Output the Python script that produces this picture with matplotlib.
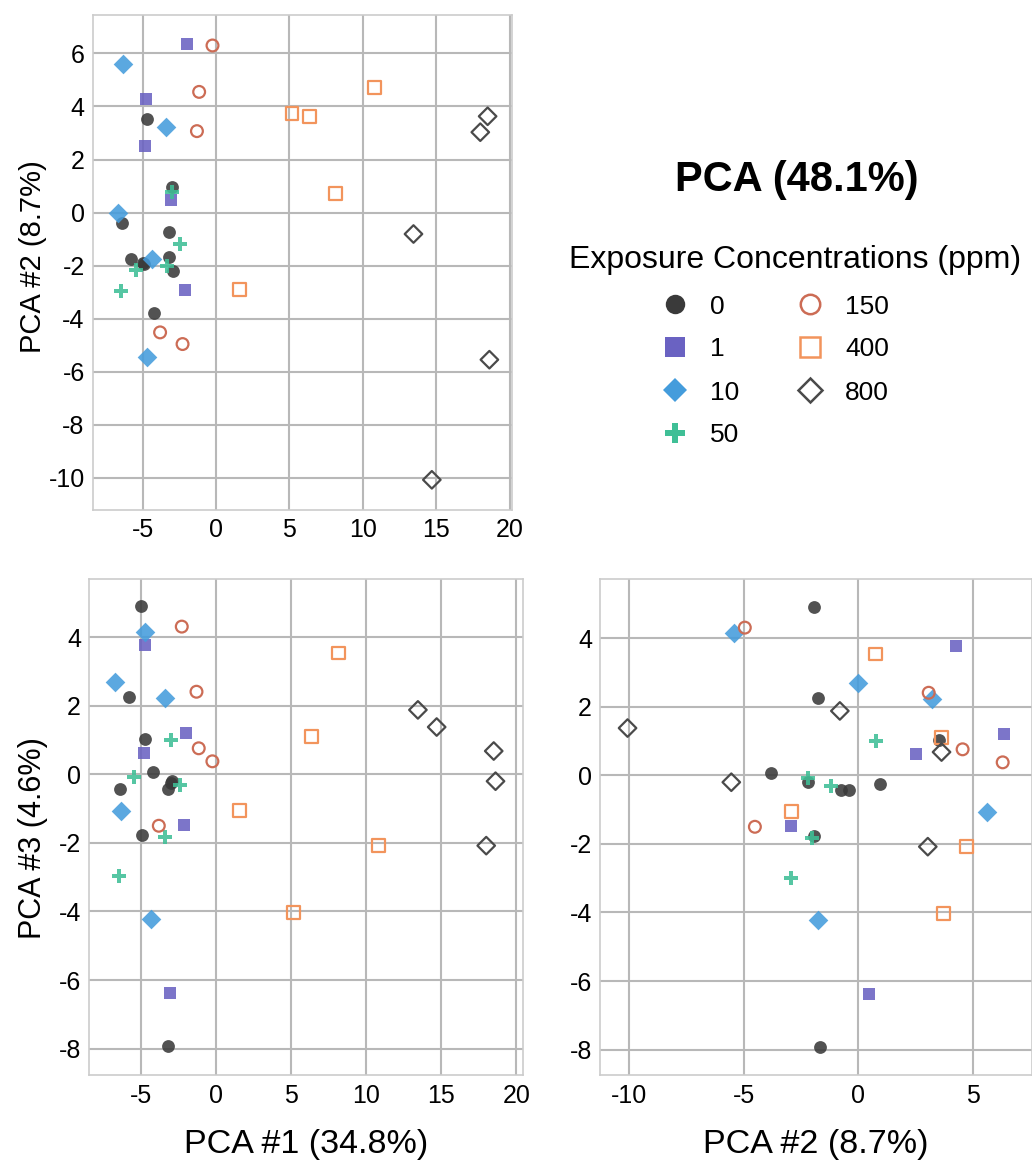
import matplotlib.pyplot as plt
from matplotlib.lines import Line2D

plt.rcParams['font.family'] = ['Liberation Sans', 'DejaVu Sans']
plt.rcParams['axes.unicode_minus'] = False

# exposure groups (ppm)
concentrations = ['0', '1', '10', '50', '150', '400', '800']

# principal component scores, one list per exposure group
pc1_scores = [
    [-4.70, -3.02, -6.39, -3.23, -5.80, -4.97, -4.90, -2.95, -4.22, -3.22],
    [-2.00, -4.74, -4.81, -3.08, -2.11],
    [-4.72, -6.70, -3.40, -6.34, -4.36],
    [-3.02, -5.45, -2.43, -3.37, -6.46],
    [-0.24, -1.15, -1.30, -3.81, -2.28],
    [5.18, 6.34, 10.81, 8.16, 1.59],
    [18.50, 18.00, 13.45, 18.62, 14.70],
]
pc2_scores = [
    [3.51, 0.95, -0.40, -0.74, -1.77, -1.92, -1.94, -2.20, -3.80, -1.68],
    [6.37, 4.27, 2.52, 0.47, -2.93],
    [-5.45, 0.00, 3.21, 5.61, -1.77],
    [0.76, -2.18, -1.19, -2.02, -2.96],
    [6.30, 4.55, 3.07, -4.52, -4.96],
    [3.72, 3.62, 4.71, 0.73, -2.91],
    [3.63, 3.03, -0.81, -5.55, -10.08],
]
pc3_scores = [
    [1.02, -0.24, -0.44, -0.44, 2.26, 4.92, -1.78, -0.19, 0.06, -7.93],
    [1.22, 3.78, 0.62, -6.38, -1.49],
    [4.14, 2.69, 2.22, -1.07, -4.23],
    [1.01, -0.07, -0.32, -1.83, -2.98],
    [0.38, 0.76, 2.41, -1.50, 4.31],
    [-4.02, 1.10, -2.07, 3.54, -1.05],
    [0.68, -2.08, 1.88, -0.20, 1.38],
]

# marker style per group
markers = ['o', 's', 'D', 'P', 'o', 's', 'D']
colors = ['#3a3a3a', '#6a62c2', '#449cdc', '#3fbf96', '#cc6c55', '#f2945c', '#4a4a4a']
filled = [True, True, True, True, False, False, False]
sizes = [85, 75, 100, 115, 72, 85, 80]

W, H = 1032, 1162


def rect(left, top, right, bottom):
    # pixel box -> figure fraction
    return [left / W, 1 - bottom / H, (right - left) / W, (bottom - top) / H]


def draw_panel(ax, xs, ys):
    for i in range(len(concentrations)):
        if filled[i]:
            ax.scatter(xs[i], ys[i], marker=markers[i], s=sizes[i],
                       color=colors[i], linewidths=0, alpha=0.88, zorder=3)
        else:
            ax.scatter(xs[i], ys[i], marker=markers[i], s=sizes[i],
                       facecolors='none', edgecolors=colors[i],
                       linewidths=1.6, zorder=3)
    ax.grid(True, color='#b8b8b8', linewidth=1.5)
    ax.set_axisbelow(True)
    for sp in ax.spines.values():
        sp.set_color('#cccccc')
        sp.set_linewidth(1.2)
    ax.tick_params(length=0, labelsize=18, pad=6, colors='black')


fig = plt.figure(figsize=(W / 100, H / 100), dpi=100)

ax1 = fig.add_axes(rect(93, 15, 512, 509.5))
draw_panel(ax1, pc1_scores, pc2_scores)
ax1.set_xlim(-8.38, 20.16)
ax1.set_ylim(-11.2, 7.45)
ax1.set_xticks([-5, 0, 5, 10, 15, 20])
ax1.set_yticks(range(-10, 7, 2))

ax2 = fig.add_axes(rect(89.3, 579.3, 522.7, 1075.3))
draw_panel(ax2, pc1_scores, pc3_scores)
ax2.set_xlim(-8.44, 20.43)
ax2.set_ylim(-8.78, 5.69)
ax2.set_xticks([-5, 0, 5, 10, 15, 20])
ax2.set_yticks(range(-8, 5, 2))

ax3 = fig.add_axes(rect(600.3, 579.3, 1032, 1075.3))
draw_panel(ax3, pc2_scores, pc3_scores)
ax3.set_xlim(-11.27, 7.58)
ax3.set_ylim(-8.75, 5.72)
ax3.set_xticks([-10, -5, 0, 5])
ax3.set_yticks(range(-8, 5, 2))

# axis titles
fig.text(33 / W, 1 - 257 / H, 'PCA #2 (8.7%)', rotation=90, fontsize=21,
         ha='center', va='center')
fig.text(33 / W, 1 - 838 / H, 'PCA #3 (4.6%)', rotation=90, fontsize=22,
         ha='center', va='center')
fig.text(306 / W, 1 - 1144 / H, 'PCA #1 (34.8%)', fontsize=24.5,
         ha='center', va='center')
fig.text(816 / W, 1 - 1144 / H, 'PCA #2 (8.7%)', fontsize=24.5,
         ha='center', va='center')

fig.text(797 / W, 1 - 180 / H, 'PCA (48.1%)', fontsize=30, fontweight='bold',
         ha='center', va='center')
fig.text(795 / W, 1 - 260 / H, 'Exposure Concentrations (ppm)', fontsize=23,
         ha='center', va='center')

handles = []
for i, c in enumerate(concentrations):
    handles.append(Line2D([], [], linestyle='none', marker=markers[i],
                          markersize=14 if markers[i] != 'D' else 12,
                          markerfacecolor=colors[i] if filled[i] else 'white',
                          markeredgecolor=colors[i],
                          markeredgewidth=0 if filled[i] else 1.8,
                          label=c))
fig.legend(handles=handles, ncol=2, loc='center',
           bbox_to_anchor=(772 / W, 1 - 371 / H),
           fontsize=19, frameon=False, labelspacing=0.72,
           borderpad=0, handlelength=1.5, handletextpad=0.6,
           columnspacing=1.9)

fig.savefig('out.png', dpi=100)
